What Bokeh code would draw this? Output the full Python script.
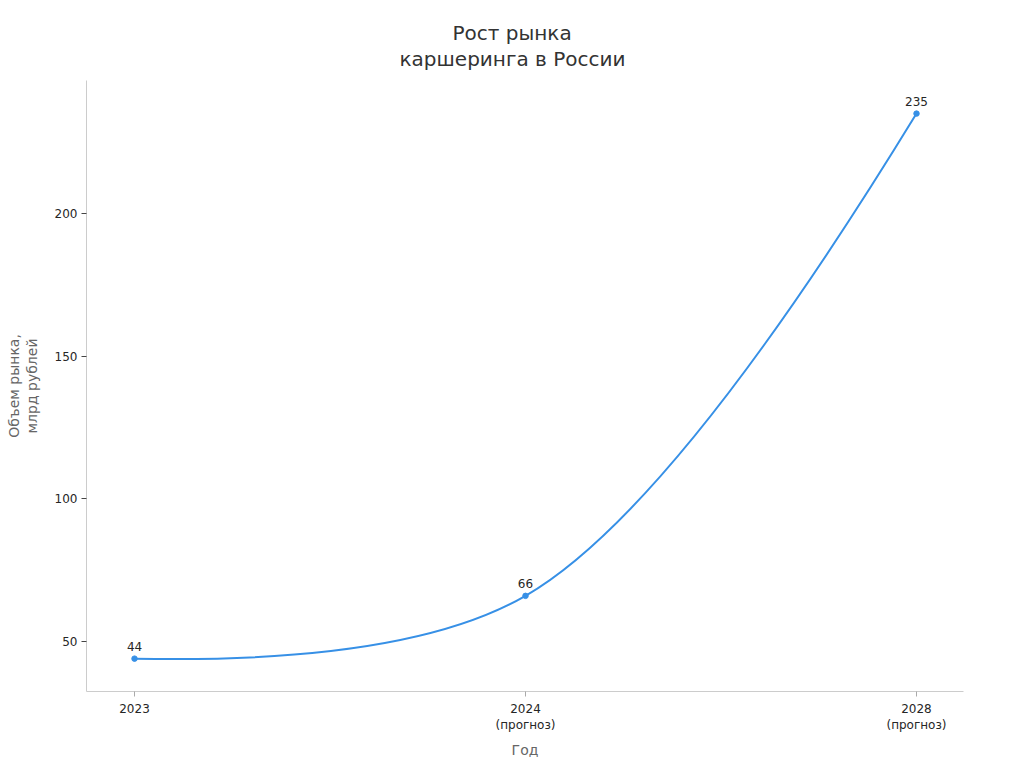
from bokeh.plotting import figure
from bokeh.models import Range1d, FixedTicker, ColumnDataSource, Title
from bokeh.embed import file_html
from bokeh.resources import INLINE
from bokeh.core.properties import value

# ---- data ----
years = ["2023", "2024", "2028"]
notes = ["", "(прогноз)", "(прогноз)"]
market = [44, 66, 235]
value_labels = ["44", "66", "235"]
y_ticks = [50, 100, 150, 200]

title_lines = ["Рост рынка", "каршеринга в России"]
x_label = "Год"
y_label = "Объем рынка,\nмлрд рублей"

# ---- layout ----
W, H = 1008, 766
FL, FR, FT, FB = 86, 963, 80, 691          # frame edges on the page
ML, MR, MT, MB = FL, W - FR, FT, H - FB
FW, FH = FR - FL, FB - FT
x_start, x_end = -0.1228, 2.1202
y_start, y_end = 32.48, 246.6
LINE = "#3790e6"
FONT = "DejaVu Sans"
TITLE_OFFSETS = [366, 313]   # left offsets so that each title line is centred on the page

xs = list(range(len(years)))


def smooth_segments(xv, yv, kx, ky, smoothness=1.0):
    """Centripetal Catmull-Rom style smoothing computed in screen-proportional space."""
    P = [(x * kx, y * ky) for x, y in zip(xv, yv)]
    tangents = []
    for i in range(1, len(P) - 1):
        (px, py), (tx, ty), (nx, ny) = P[i - 1], P[i], P[i + 1]
        d1x, d1y = px - tx, py - ty
        d2x, d2y = nx - tx, ny - ty
        d1a = (d1x * d1x + d1y * d1y) ** 0.25
        d2a = (d2x * d2x + d2y * d2y) ** 0.25
        numx = (d2a * d2a * d1x - d1a * d1a * d2x) * smoothness
        numy = (d2a * d2a * d1y - d1a * d1a * d2y) * smoothness
        den1 = 3 * d2a * (d1a + d2a)
        den2 = 3 * d1a * (d1a + d2a)
        tangents.append(((tx + numx / den1, ty + numy / den1),
                         (tx - numx / den2, ty - numy / den2)))
    to_d = lambda pt: (pt[0] / kx, pt[1] / ky)
    quads, cubics = [], []
    n = len(P)
    quads.append((xv[0], yv[0], xv[1], yv[1]) + to_d(tangents[0][0]))
    for i in range(2, n - 1):
        c0 = to_d(tangents[i - 2][1])
        c1 = to_d(tangents[i - 1][0])
        cubics.append((xv[i - 1], yv[i - 1], xv[i], yv[i]) + c0 + c1)
    quads.append((xv[n - 2], yv[n - 2], xv[n - 1], yv[n - 1]) + to_d(tangents[n - 3][1]))
    return quads, cubics


kx = FW / (x_end - x_start)
ky = FH / (y_end - y_start)
quads, cubics = smooth_segments(xs, market, kx, ky)

p = figure(width=W, height=H, output_backend="svg", toolbar_location=None,
           x_range=Range1d(x_start, x_end), y_range=Range1d(y_start, y_end),
           min_border_left=ML, min_border_right=MR, min_border_top=MT,
           min_border_bottom=MB)

p.background_fill_color = "white"
p.border_fill_color = "white"
p.outline_line_color = None
p.xgrid.visible = False
p.ygrid.visible = False

# title: first line is the main title; the second line is stacked nearer the plot
def style_title(t, off, standoff):
    t.align = "left"
    t.offset = off
    t.standoff = standoff
    t.text_font = FONT
    t.text_font_size = "20px"
    t.text_font_style = "normal"
    t.text_color = "#333333"

p.title.text = title_lines[0]
style_title(p.title, TITLE_OFFSETS[0], -20)
t2 = Title(text=title_lines[1])
style_title(t2, TITLE_OFFSETS[1], 20)
p.add_layout(t2, "above")

# curve
qsrc = ColumnDataSource(dict(
    x0=[q[0] for q in quads], y0=[q[1] for q in quads],
    x1=[q[2] for q in quads], y1=[q[3] for q in quads],
    cx=[q[4] for q in quads], cy=[q[5] for q in quads]))
p.quadratic(x0="x0", y0="y0", x1="x1", y1="y1", cx="cx", cy="cy",
            source=qsrc, line_color=LINE, line_width=2)
if cubics:
    csrc = ColumnDataSource(dict(
        x0=[c[0] for c in cubics], y0=[c[1] for c in cubics],
        x1=[c[2] for c in cubics], y1=[c[3] for c in cubics],
        cx0=[c[4] for c in cubics], cy0=[c[5] for c in cubics],
        cx1=[c[6] for c in cubics], cy1=[c[7] for c in cubics]))
    p.bezier(x0="x0", y0="y0", x1="x1", y1="y1", cx0="cx0", cy0="cy0",
             cx1="cx1", cy1="cy1", source=csrc, line_color=LINE, line_width=2)

src = ColumnDataSource(dict(x=xs, y=market, t=value_labels))
p.scatter(x="x", y="y", source=src, size=5.5, fill_color=LINE, line_color=LINE)
p.text(x="x", y="y", text="t", source=src, text_font=value(FONT),
       text_font_size="12px", text_color="#262626", text_align="center",
       text_baseline="alphabetic", y_offset=-12)

# axes
p.xaxis.ticker = FixedTicker(ticks=xs)
p.xaxis.major_label_overrides = {i: (y if not n else y + "\n" + n)
                                 for i, (y, n) in enumerate(zip(years, notes))}
p.yaxis.ticker = FixedTicker(ticks=y_ticks)

for ax in (p.xaxis[0], p.yaxis[0]):
    ax.axis_line_color = "#cccccc"
    ax.axis_line_width = 1
    ax.minor_tick_line_color = None
    ax.major_tick_in = 0
    ax.major_tick_out = 5
    ax.major_label_text_font = FONT
    ax.major_label_text_font_size = "12px"
    ax.major_label_text_color = "#262626"
    ax.axis_label_text_font = FONT
    ax.axis_label_text_font_size = "14px"
    ax.axis_label_text_font_style = "normal"
    ax.axis_label_text_color = "#666666"

p.xaxis.major_tick_line_color = "#aaaaaa"
p.yaxis.major_tick_line_color = "#444444"
p.xaxis.major_label_standoff = 5
p.yaxis.major_label_standoff = 4
p.xaxis.axis_label = x_label
p.yaxis.axis_label = y_label
p.yaxis.axis_label_text_line_height = 1.1
p.xaxis.axis_label_standoff = 7
p.yaxis.axis_label_standoff = 12

open("out.html", "w").write(file_html(p, INLINE))
